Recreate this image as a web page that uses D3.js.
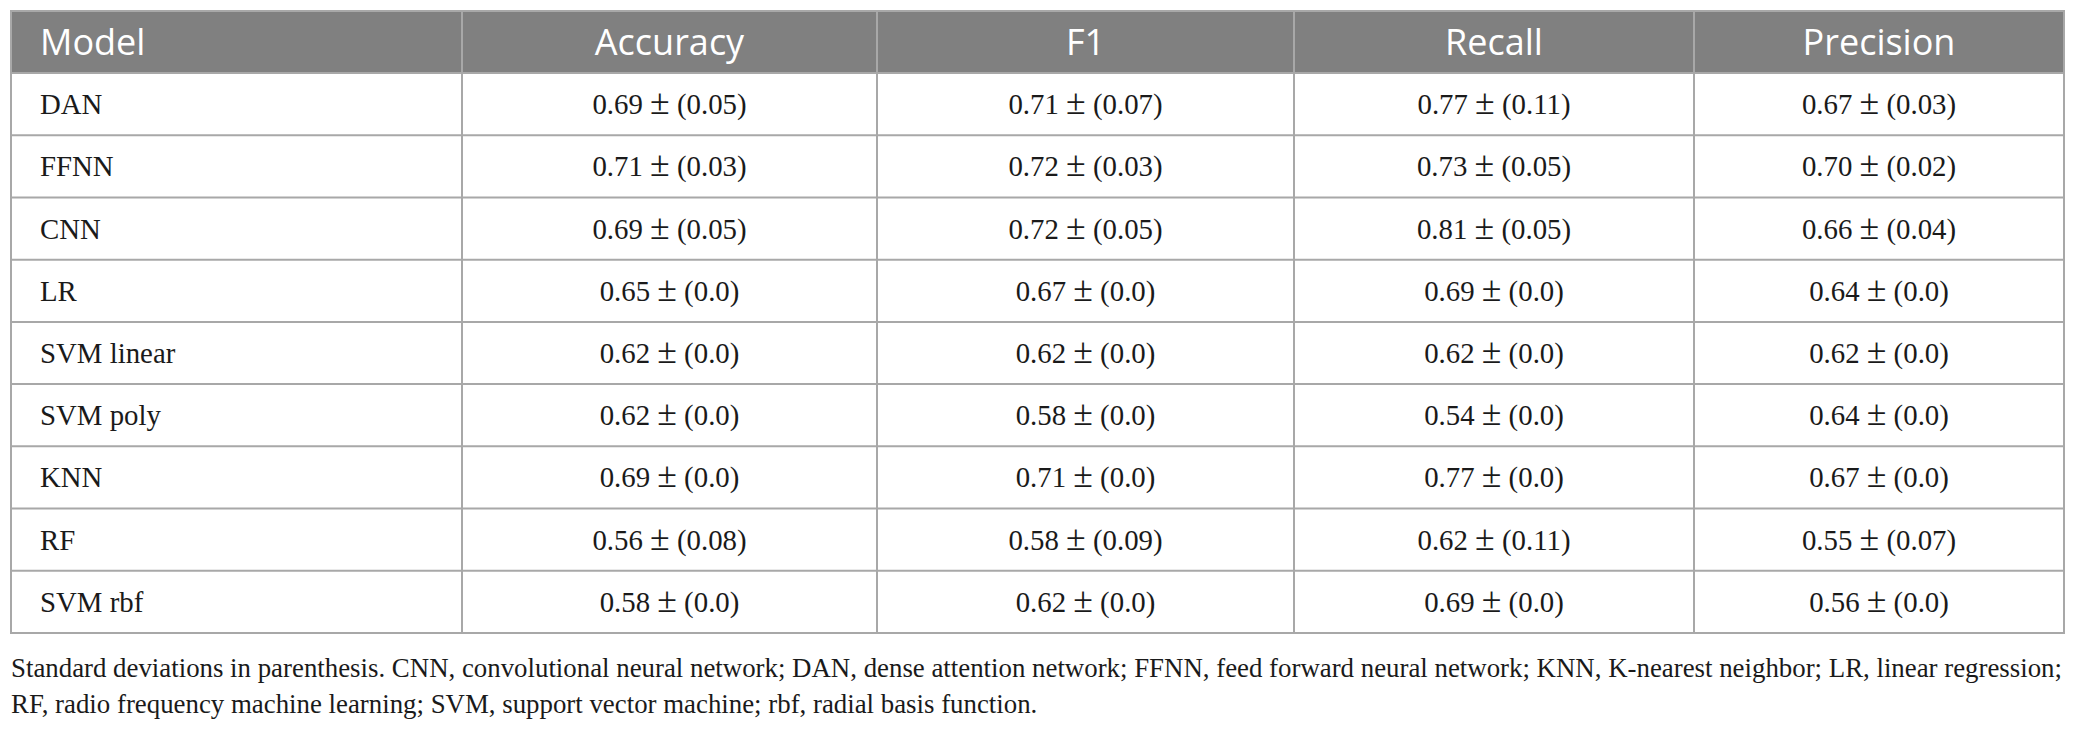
<!DOCTYPE html>
<html>
<head>
<meta charset="utf-8">
<script src="https://cdn.jsdelivr.net/npm/d3@7"></script>
<style>
  html, body { margin: 0; padding: 0; background: #fff; }
  svg { display: block; }
</style>
</head>
<body>
<div id="table"></div>
<script>
// table content
const models = ["DAN", "FFNN", "CNN", "LR", "SVM linear", "SVM poly", "KNN", "RF", "SVM rbf"];
const metrics = ["Accuracy", "F1", "Recall", "Precision"];

const accuracy = [0.69, 0.71, 0.69, 0.65, 0.62, 0.62, 0.69, 0.56, 0.58];
const accuracySd = [0.05, 0.03, 0.05, 0, 0, 0, 0, 0.08, 0];
const f1 = [0.71, 0.72, 0.72, 0.67, 0.62, 0.58, 0.71, 0.58, 0.62];
const f1Sd = [0.07, 0.03, 0.05, 0, 0, 0, 0, 0.09, 0];
const recall = [0.77, 0.73, 0.81, 0.69, 0.62, 0.54, 0.77, 0.62, 0.69];
const recallSd = [0.11, 0.05, 0.05, 0, 0, 0, 0, 0.11, 0];
const precision = [0.67, 0.70, 0.66, 0.64, 0.62, 0.64, 0.67, 0.55, 0.56];
const precisionSd = [0.03, 0.02, 0.04, 0, 0, 0, 0, 0.07, 0];

const captionLines = [
  "Standard deviations in parenthesis. CNN, convolutional neural network; DAN, dense attention network; FFNN, feed forward neural network; KNN, K-nearest neighbor; LR, linear regression;",
  "RF, radio frequency machine learning; SVM, support vector machine; rbf, radial basis function.",
];

const width = 2077, height = 731;
const svg = d3.select("#table").append("svg").attr("width", width).attr("height", height);

const columns = ["Model"].concat(metrics);
const colEdges = [11, 462, 877, 1294, 1694, 2064];
const x0 = d3.scaleOrdinal(columns, colEdges.slice(0, -1));
const x1 = d3.scaleOrdinal(columns, colEdges.slice(1));

const tableTop = 11, headerBottom = 73, tableBottom = 633;
const y = d3.scaleBand().domain(models).range([headerBottom, tableBottom]);

const lineColor = "#a8a8a8";
const fmt = d3.format(".2f");
const fmtSd = (v) => (v === 0 ? "0.0" : fmt(v));

const series = [
  [accuracy, accuracySd],
  [f1, f1Sd],
  [recall, recallSd],
  [precision, precisionSd],
];

// header band
svg.append("rect")
  .attr("x", colEdges[0]).attr("y", tableTop)
  .attr("width", colEdges[5] - colEdges[0]).attr("height", headerBottom - tableTop)
  .attr("fill", "#808080");

// caption first, to measure how condensed the serif font should be
const serif = "'Liberation Serif', 'DejaVu Serif', serif";
const cap = svg.append("g").attr("font-family", serif).attr("font-size", 27).attr("fill", "#1a1a1a");
const capNodes = cap.selectAll("text")
  .data(captionLines)
  .join("text")
  .attr("x", 11)
  .attr("y", (d, i) => 677 + i * 36)
  .text((d) => d);
const natural = capNodes.nodes().map((n) => n.getComputedTextLength());
const squeeze = (2062 - 11) / natural[0];
capNodes
  .attr("textLength", (d, i) => natural[i] * squeeze)
  .attr("lengthAdjust", "spacingAndGlyphs");

// header labels
svg.append("g")
  .attr("font-family", "'Open Sans', sans-serif")
  .attr("font-size", 36)
  .attr("fill", "#fff")
  .selectAll("text")
  .data(columns)
  .join("text")
  .attr("x", (c, i) => (i === 0 ? x0(c) + 29 : (x0(c) + x1(c)) / 2))
  .attr("y", 55)
  .attr("text-anchor", (c, i) => (i === 0 ? "start" : "middle"))
  .text((c) => c);

// body cells
const body = svg.append("g").attr("font-family", serif).attr("font-size", 29).attr("fill", "#1a1a1a");
const rowText = y.bandwidth() / 2 + 10;

body.selectAll("text.model")
  .data(models)
  .join("text")
  .attr("class", "model")
  .attr("transform", (m) => `translate(${x0("Model") + 29},${y(m) + rowText}) scale(${squeeze},1)`)
  .text((m) => m);

metrics.forEach((metric, j) => {
  const [vals, sds] = series[j];
  const cell = body.selectAll("text." + metric)
    .data(models)
    .join("text")
    .attr("class", metric)
    .attr("text-anchor", "middle")
    .attr("transform", (m) =>
      `translate(${(x0(metric) + x1(metric)) / 2},${y(m) + rowText}) scale(${squeeze},1)`);
  cell.append("tspan").text((m, i) => fmt(vals[i]) + " ");
  cell.append("tspan").attr("font-size", 36).text("\u00b1");
  cell.append("tspan").text((m, i) => ` (${fmtSd(sds[i])})`);
});

// grid lines
const grid = svg.append("g").attr("stroke", lineColor).attr("stroke-width", 2).attr("fill", "none");
grid.selectAll("line.h")
  .data(models.slice(1))
  .join("line")
  .attr("class", "h")
  .attr("x1", colEdges[0]).attr("x2", colEdges[5])
  .attr("y1", (m) => y(m)).attr("y2", (m) => y(m));
grid.append("line")
  .attr("x1", colEdges[0]).attr("x2", colEdges[5])
  .attr("y1", headerBottom).attr("y2", headerBottom);
grid.selectAll("line.v")
  .data(colEdges.slice(1, -1))
  .join("line")
  .attr("class", "v")
  .attr("x1", (d) => d).attr("x2", (d) => d)
  .attr("y1", tableTop).attr("y2", tableBottom);
grid.append("rect")
  .attr("x", colEdges[0]).attr("y", tableTop)
  .attr("width", colEdges[5] - colEdges[0]).attr("height", tableBottom - tableTop);
</script>
</body>
</html>
